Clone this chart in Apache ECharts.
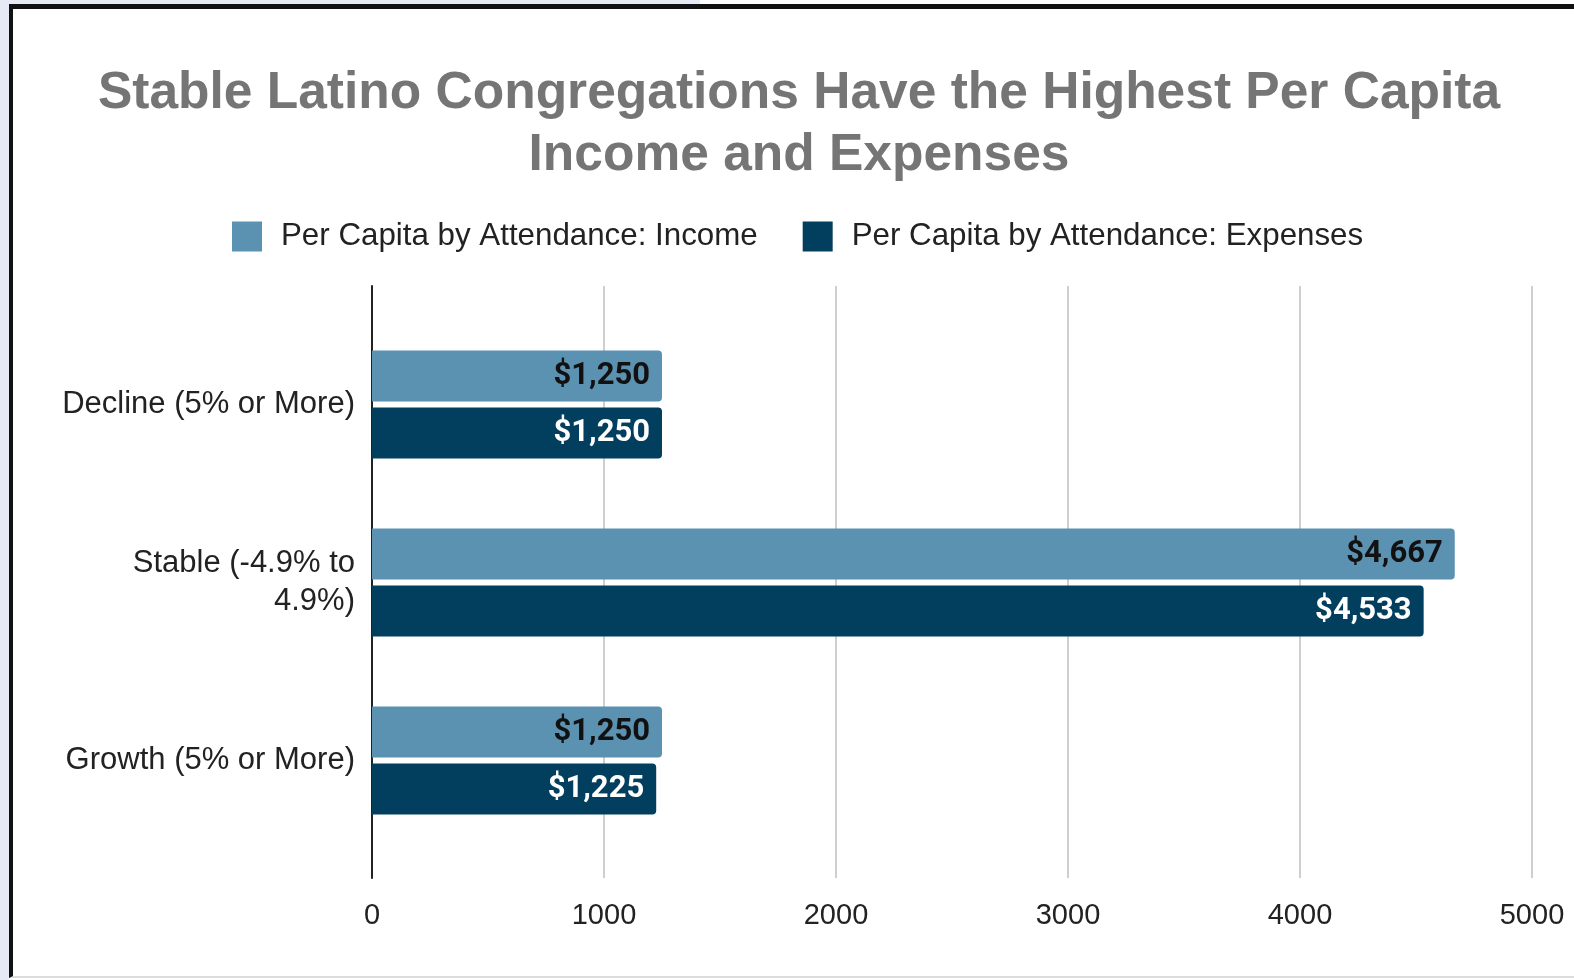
<!DOCTYPE html>
<html>
<head>
<meta charset="utf-8">
<script src="https://cdn.jsdelivr.net/npm/echarts@6/dist/echarts.min.js"></script>
<style>
  html, body { margin: 0; padding: 0; width: 1574px; height: 980px; background: #ffffff; overflow: hidden; }
  #leftStrip { position: absolute; left: 0; top: 0; width: 9px; height: 980px; background: #e6eaf5; }
  #topStrip { position: absolute; left: 0; top: 0; width: 700px; height: 4px; background: #e6eaf5; }
  #frame { position: absolute; left: 9px; top: 4px; width: 1565px; height: 974px; border-left: 4px solid #111; border-top: 5px solid #111; border-bottom: 2px solid #dcdcdc; box-sizing: border-box; }
  #chart { position: absolute; left: 0; top: 0; width: 1574px; height: 980px; }
</style>
</head>
<body>
<div id="leftStrip"></div>
<div id="topStrip"></div>
<div id="frame"></div>
<div id="chart"></div>
<script>
const titleText = "Stable Latino Congregations Have the Highest Per Capita\nIncome and Expenses";
const categories = ["Decline (5% or More)", "Stable (-4.9% to 4.9%)", "Growth (5% or More)"];
const categoryLabels = ["Decline (5% or More)", "Stable (-4.9% to\n4.9%)", "Growth (5% or More)"];
const seriesNames = ["Per Capita by Attendance: Income", "Per Capita by Attendance: Expenses"];
const incomeValues = [1250, 4667, 1250];
const expenseValues = [1250, 4533, 1225];
const xTicks = [0, 1000, 2000, 3000, 4000, 5000];

const fmtMoney = v => "$" + Number(v).toLocaleString("en-US");

const chart = echarts.init(document.getElementById("chart"), null, { renderer: "canvas" });
const axisFont = "Liberation Sans, Arial, sans-serif";

chart.setOption({
  backgroundColor: "transparent",
  animation: false,
  title: {
    text: titleText,
    left: 794,
    top: 58,
    textAlign: "center",
    textStyle: {
      fontFamily: axisFont,
      fontWeight: "bold",
      fontSize: 51.5,
      lineHeight: 62,
      color: "#757575"
    }
  },
  legend: {
    left: 227,
    top: 216,
    itemWidth: 30,
    itemHeight: 30,
    itemGap: 45,
    icon: "rect",
    data: seriesNames,
    textStyle: {
      fontFamily: axisFont,
      fontSize: 31.3,
      color: "#222",
      padding: [0, 0, 0, 14]
    }
  },
  grid: [
    { left: 372, right: 42, top: 286, height: 592, containLabel: false },
    { left: 372, right: 42, top: 315.5, height: 534, containLabel: false }
  ],
  xAxis: [
    {
      gridIndex: 0, type: "value", min: xTicks[0], max: xTicks[xTicks.length - 1], interval: 1000,
      axisLine: { show: false }, axisTick: { show: false },
      splitLine: { show: true, lineStyle: { color: "#cfcfcf", width: 2 } },
      axisLabel: {
        margin: 23,
        fontFamily: axisFont, fontSize: 29, color: "#222",
        formatter: v => String(v)
      }
    },
    {
      gridIndex: 1, type: "value", min: xTicks[0], max: xTicks[xTicks.length - 1], show: false
    }
  ],
  yAxis: [
    {
      gridIndex: 0, type: "value", min: 0, max: 1,
      axisLine: { show: true, onZero: false, lineStyle: { color: "#222", width: 2 } },
      axisTick: { show: false }, axisLabel: { show: false }, splitLine: { show: false }
    },
    {
      gridIndex: 1, type: "category", data: categories, inverse: true,
      axisLine: { show: false }, axisTick: { show: false }, splitLine: { show: false },
      axisLabel: {
        margin: 17,
        fontFamily: axisFont, fontSize: 31, color: "#222", lineHeight: 38, align: "right",
        formatter: (v, i) => categoryLabels[i]
      }
    }
  ],
  series: [
    {
      name: seriesNames[0], type: "bar", xAxisIndex: 1, yAxisIndex: 1,
      data: incomeValues, barWidth: 51, barGap: "12%",
      itemStyle: { color: "#5b92b1", borderRadius: [0, 4, 4, 0] },
      label: {
        show: true, position: "insideRight", distance: 12,
        formatter: p => fmtMoney(p.value),
        fontFamily: "Roboto, sans-serif", fontWeight: "bold", fontSize: 31, color: "#111"
      }
    },
    {
      name: seriesNames[1], type: "bar", xAxisIndex: 1, yAxisIndex: 1,
      data: expenseValues, barWidth: 51, barGap: "12%",
      itemStyle: { color: "#023f5e", borderRadius: [0, 4, 4, 0] },
      label: {
        show: true, position: "insideRight", distance: 12,
        formatter: p => fmtMoney(p.value),
        fontFamily: "Roboto, sans-serif", fontWeight: "bold", fontSize: 31, color: "#ffffff"
      }
    }
  ]
});
</script>
</body>
</html>
